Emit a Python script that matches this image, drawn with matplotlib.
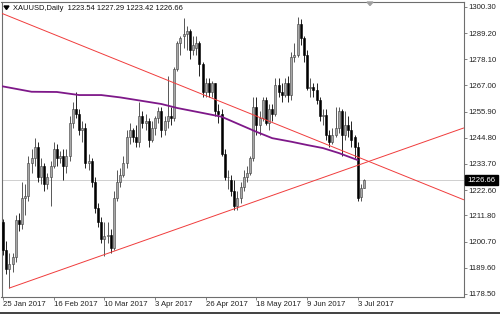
import numpy as np
import matplotlib.pyplot as plt
from matplotlib.patches import Rectangle, Polygon
from matplotlib.lines import Line2D


DPI = 100
FIGSIZE = (5.0, 3.14)
FONT = "Liberation Sans"
FONTSIZE = 5.6
BODY_WIDTH = 0.62
BULL_FACE = "#a8a8a8"
BULL_EDGE = "#3c3c3c"
BEAR_COLOR = "#000000"
MA_COLOR = "#7e1889"
TREND_COLOR = "#f03c3c"
FRAME_COLOR = "#6e6e6e"

TITLE = "XAUUSD,Daily  1223.54 1227.29 1223.42 1226.66"
LAST_PRICE = 1226.66

# daily bars, 25 Jan 2017 .. 5 Jul 2017 (bar index = position)
opens = [1209, 1197, 1189, 1191, 1194, 1210, 1208, 1219, 1220, 1234,
         1236, 1241, 1228, 1233, 1225, 1228, 1233, 1240, 1236, 1237,
         1233, 1237, 1251, 1257, 1255, 1248, 1249, 1234, 1235, 1226,
         1215, 1209, 1202, 1203, 1203.5, 1198, 1219, 1226, 1229, 1234,
         1245, 1248, 1245, 1243, 1254, 1251, 1252, 1244, 1249, 1253,
         1256, 1248, 1252, 1254, 1253, 1274, 1285, 1288, 1289, 1290,
         1282, 1283, 1285, 1276, 1264, 1268, 1264, 1268, 1256, 1255,
         1238, 1228, 1227, 1222, 1216, 1219, 1224, 1228, 1230, 1236,
         1258, 1250, 1253, 1261, 1251, 1257, 1255, 1267, 1264, 1263,
         1268, 1263, 1279, 1280, 1293, 1287, 1280, 1266, 1266.5, 1265,
         1261, 1254, 1254.5, 1246, 1243, 1246, 1249, 1256, 1246, 1250,
         1248, 1245, 1241, 1219.5, 1223.54]
highs = [1210.5, 1201, 1196, 1196, 1212, 1213, 1226, 1225, 1237, 1240,
         1244.5, 1243, 1236, 1234, 1230, 1235, 1243, 1242, 1239, 1240,
         1240, 1254, 1260, 1264, 1257, 1252, 1251, 1238, 1236, 1228,
         1217, 1211, 1209, 1209, 1206, 1222, 1231, 1232, 1237, 1248,
         1251, 1249, 1250, 1260, 1256, 1255, 1253, 1252, 1254, 1258,
         1258, 1254, 1271, 1258, 1275, 1286, 1288, 1295.6, 1292, 1291,
         1288, 1288, 1286, 1277, 1270, 1270, 1269, 1268, 1259, 1257,
         1240, 1231, 1229, 1227, 1222, 1226, 1231, 1233, 1237, 1262,
         1262, 1256, 1262, 1262, 1259, 1259, 1270, 1270, 1268, 1270,
         1271, 1281, 1285, 1296, 1295, 1288, 1282, 1270, 1268, 1268,
         1262, 1257, 1257, 1248, 1249, 1258, 1258, 1257, 1256, 1254,
         1252, 1246, 1243, 1225, 1227.29]
lows = [1195, 1187, 1181, 1188, 1192, 1205, 1206, 1212, 1218, 1230,
        1233, 1226, 1225, 1222, 1223, 1216, 1232, 1233, 1234, 1227,
        1230, 1235, 1249, 1253, 1246, 1243, 1232, 1231, 1224, 1213,
        1207, 1200, 1194.5, 1200, 1196, 1197, 1218, 1224, 1228, 1232,
        1242, 1243, 1241, 1241, 1249, 1248, 1241, 1243, 1246, 1251,
        1245, 1246, 1249, 1250, 1252, 1273, 1280, 1283, 1282, 1278,
        1280, 1280, 1271, 1262, 1262, 1262, 1262, 1254, 1251, 1237,
        1227, 1223, 1220, 1214, 1214, 1217, 1222, 1226, 1229, 1235,
        1246, 1246, 1252, 1250, 1248, 1252, 1254, 1262, 1260, 1262,
        1260, 1261, 1277, 1279, 1284, 1277, 1265, 1262, 1262, 1259,
        1252, 1250, 1244, 1241, 1242, 1245, 1247, 1237, 1244, 1245,
        1241, 1236, 1218, 1218, 1223.42]
closes = [1197, 1189, 1191, 1194, 1210, 1208, 1219, 1220, 1234, 1236,
          1241, 1228, 1233, 1225, 1228, 1233, 1240, 1236, 1237, 1233,
          1237, 1251, 1257, 1255, 1248, 1249, 1234, 1235, 1226, 1215,
          1209, 1202, 1203, 1203.5, 1198, 1219, 1226, 1229, 1234, 1245,
          1248, 1245, 1243, 1254, 1251, 1252, 1244, 1249, 1253, 1256,
          1248, 1252, 1254, 1253, 1274, 1285, 1287, 1289, 1290, 1282,
          1284, 1285, 1276, 1264, 1268, 1264, 1268, 1256, 1255, 1238,
          1228, 1228, 1222, 1216, 1219, 1224, 1228, 1230, 1236, 1258,
          1250, 1253, 1261, 1251, 1257, 1255, 1267, 1264, 1263, 1268,
          1263, 1279, 1280, 1293, 1287, 1280, 1266, 1266.5, 1265, 1261,
          1254, 1254.5, 1246, 1243, 1246, 1249, 1256, 1246, 1250, 1248,
          1244, 1241, 1219, 1223.5, 1226.66]

# moving average (bar index, price)
ma_idx = [-1, 9, 17, 24, 31, 37, 50, 55, 63, 69, 75, 80, 85, 91, 96, 101, 106, 112]
ma_val = [1266.8, 1264.3, 1264.2, 1262.9, 1262.9, 1261.9, 1259.1, 1257.4,
          1255.3, 1253.7, 1250.2, 1247.3, 1244.6, 1243.1, 1241.7, 1240.4,
          1238.3, 1235.3]

# trend lines (bar index, price) pairs
trend_down = ([-1.0, 145.4], [1297.9, 1218.5])
trend_up = ([2.0, 145.4], [1181.0, 1248.9])

date_ticks = [0, 16, 32, 48, 64, 80, 96, 112]
date_labels = ["25 Jan 2017", "16 Feb 2017", "10 Mar 2017", "3 Apr 2017",
               "26 Apr 2017", "18 May 2017", "9 Jun 2017", "3 Jul 2017"]
price_ticks = [1300.30, 1289.20, 1278.10, 1267.00, 1255.90, 1244.80,
               1233.70, 1222.60, 1211.80, 1200.70, 1189.60, 1178.50]

XLIM = (-0.5, 145.4)
YLIM = (1177.4, 1302.6)


def draw_candles(ax):
    o, h, l, c = map(np.asarray, (opens, highs, lows, closes))
    x = np.arange(len(o))
    up = c >= o
    ax.vlines(x, l, h, colors=np.where(up, BULL_EDGE, BEAR_COLOR), lw=0.6, zorder=3)
    bottom = np.minimum(o, c)
    height = np.maximum(np.abs(c - o), 0.3)
    ax.bar(x[up], height[up], BODY_WIDTH, bottom[up], color=BULL_FACE,
           edgecolor=BULL_EDGE, linewidth=0.4, zorder=4)
    ax.bar(x[~up], height[~up], BODY_WIDTH, bottom[~up], color=BEAR_COLOR,
           edgecolor=BEAR_COLOR, linewidth=0.4, zorder=4)


def main():
    plt.rcParams['font.family'] = [FONT, 'DejaVu Sans']
    fig = plt.figure(figsize=FIGSIZE, dpi=DPI)
    ax = fig.add_axes([0.003, 0.0557, 0.924, 0.9395])

    ax.axhline(LAST_PRICE, color="#c8c8c8", lw=0.6, zorder=1)
    draw_candles(ax)
    ax.plot(ma_idx, ma_val, color=MA_COLOR, lw=1.3, zorder=5,
            solid_capstyle="round")
    ax.plot(*trend_down, color=TREND_COLOR, lw=0.7, zorder=6)
    ax.plot(*trend_up, color=TREND_COLOR, lw=0.7, zorder=6)

    ax.set_xlim(*XLIM)
    ax.set_ylim(*YLIM)
    for s in ax.spines.values():
        s.set_color(FRAME_COLOR)
        s.set_linewidth(0.8)

    ax.yaxis.tick_right()
    ax.set_yticks(price_ticks)
    ax.set_yticklabels([f"{p:.2f}" for p in price_ticks])
    ax.set_xticks(date_ticks)
    ax.set_xticklabels(date_labels, ha="left")
    ax.tick_params(axis="both", length=2.2, width=0.6, color=FRAME_COLOR,
                   labelsize=FONTSIZE, labelcolor="#222222", pad=1.0)

    # last price tag on the price scale
    fig.add_artist(Rectangle((465 / 500, (314 - 185) / 314), 33 / 500, 10 / 314,
                             transform=fig.transFigure, color="black"))
    fig.text(481.5 / 500, (314 - 180) / 314, f"{LAST_PRICE:.2f}", color="white",
             fontsize=FONTSIZE, ha="center", va="center")

    # title with the little menu arrow
    fig.add_artist(Polygon([[4 / 500, 1 - 6 / 314], [9 / 500, 1 - 6 / 314],
                            [6.5 / 500, 1 - 9.5 / 314]], closed=True,
                           transform=fig.transFigure, color="black"))
    fig.text(13 / 500, 1 - 8 / 314, TITLE, fontsize=5.4, color="#111111",
             ha="left", va="center")
    # chart shift marker
    fig.add_artist(Polygon([[367 / 500, 1 - 2 / 314], [373 / 500, 1 - 2 / 314],
                            [370 / 500, 1 - 5.5 / 314]], closed=True,
                           transform=fig.transFigure, color="#a0a0a0"))
    fig.add_artist(Line2D([0, 1], [0.8 / 314, 0.8 / 314], transform=fig.transFigure,
                          color="#202020", lw=1.2))

    fig.savefig("out.png", dpi=DPI, facecolor="white")
    plt.close(fig)


if __name__ == "__main__":
    main()
